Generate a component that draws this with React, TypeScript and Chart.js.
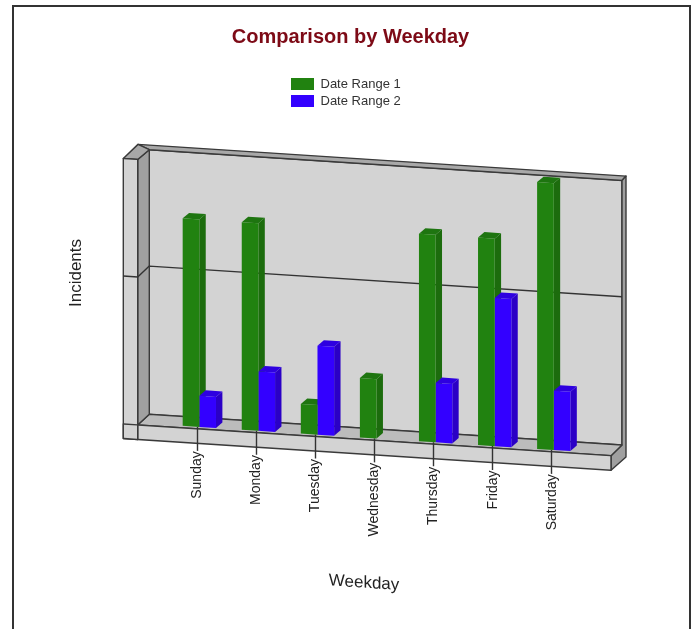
import React, { useEffect, useRef } from "react";
import { Chart, registerables } from "chart.js";

Chart.register(...registerables);

const weekdays = ["Sunday", "Monday", "Tuesday", "Wednesday", "Thursday", "Friday", "Saturday"];
const dateRange1 = [140, 140, 20, 40, 140, 140, 180];
const dateRange2 = [21, 40, 60, 0, 40, 100, 40];
const seriesNames = ["Date Range 1", "Date Range 2"];
const FONT = "'Liberation Sans', Arial, sans-serif";

const K = 0.065; // vertical shear of the whole plot
const DEPTH_X = 6.4;
const DEPTH_Y = -5.9;
const TICK_DX = -2;
const faces = [
  { front: "#218210", side: "#1c6c0d", top: "#1e7510" },
  { front: "#3300ff", side: "#2b00c6", top: "#2e00e0" },
];

const poly = (ctx: any, pts: number[][], fill: string, stroke = "#3a3a3a") => {
  ctx.beginPath();
  pts.forEach((p, i) => (i ? ctx.lineTo(p[0], p[1]) : ctx.moveTo(p[0], p[1])));
  ctx.closePath();
  ctx.fillStyle = fill;
  ctx.fill();
  ctx.strokeStyle = stroke;
  ctx.lineWidth = 1.4;
  ctx.lineJoin = "round";
  ctx.stroke();
};

const threeD = {
  id: "threeD",
  afterLayout(chart: any) {
    const ctx = chart.ctx;
    const wrap = (scale: any, name: string, dx: number, dy: number, shear: boolean) => {
      const key = "__p_" + name;
      if (scale[key]) return;
      scale[key] = true;
      const orig = scale[name].bind(scale);
      scale[name] = (...a: any[]) => {
        ctx.save();
        if (shear) ctx.transform(1, K, 0, 1, 0, 0);
        ctx.translate(dx, dy);
        orig(...a);
        ctx.restore();
      };
    };
    const xs = chart.scales.x;
    wrap(xs, "drawGrid", TICK_DX, 0, true);
    wrap(xs, "drawTitle", -12.5, -55.5, true);
    wrap(chart.scales.y, "drawTitle", 0, -7.6, false);
    // labels stay upright: each one only follows the slope of the axis
    if (!xs.__p_items) {
      xs.__p_items = true;
      const orig = xs.getLabelItems.bind(xs);
      xs.getLabelItems = (ca: any) =>
        orig(ca).map((it: any) => {
          const [x, y] = it.options.translation;
          const nx = x + TICK_DX;
          return {
            ...it,
            options: { ...it.options, rotation: -Math.PI / 2, translation: [nx, y + K * nx] },
          };
        });
    }
  },
  beforeDraw(chart: any) {
    const ctx = chart.ctx;
    const { left, right, bottom } = chart.chartArea;
    // title and legend placement
    const tb = chart.titleBlock;
    tb.left = 4;
    tb.right = 697;
    const lg = chart.legend;
    const w = lg.right - lg.left;
    const h = lg.bottom - lg.top;
    lg.left = 291 - lg.options.labels.padding;
    lg.right = lg.left + w;
    lg.top = 77.5 - lg.options.labels.padding;
    lg.bottom = lg.top + h;

    // page frame
    ctx.save();
    ctx.strokeStyle = "#333";
    ctx.lineWidth = 2;
    ctx.beginPath();
    ctx.moveTo(13, 640);
    ctx.lineTo(13, 6);
    ctx.lineTo(690, 6);
    ctx.lineTo(690, 640);
    ctx.stroke();
    ctx.restore();

    // box of the plot, relative to the plane of the bars
    const f0 = left - 32.1; // front plane left
    const f1 = right + 27.7; // front plane right
    const o0 = left - 46.5; // outer left
    const b0 = left - 20.5; // back plane left
    const b1 = right + 38.7; // back plane right
    const bo0 = left - 31.8;
    const bo1 = right + 42.7;
    const wallB = bottom - 9.4;
    const wallT = bottom - 274;
    const frontB = bottom + 2;
    const slabB = bottom + 16.5;
    const frontT = bottom - 263.5;
    const outerT = bottom - 278.6;
    ctx.save();
    ctx.transform(1, K, 0, 1, 0, 0);
    poly(ctx, [[b0, wallT], [b1, wallT], [b1, wallB], [b0, wallB]], "#d3d3d3");
    poly(ctx, [[bo0, outerT], [bo1, outerT], [b1, wallT], [b0, wallT]], "#a8a8a8");
    poly(ctx, [[b1, wallT], [bo1, outerT], [bo1, bottom + 2.3], [f1, slabB], [f1, frontB], [b1, wallB]], "#a0a0a0");
    poly(ctx, [[f0, frontB], [b0, wallB], [b1, wallB], [f1, frontB]], "#bcbcbc");
    poly(ctx, [[f0, frontT], [b0, wallT], [b0, wallB], [f0, frontB]], "#a0a0a0");
    poly(ctx, [[o0, frontT], [bo0, outerT], [b0, wallT], [f0, frontT]], "#a8a8a8");
    poly(ctx, [[o0, frontT], [f0, frontT], [f0, slabB], [o0, slabB]], "#d3d3d3");
    poly(ctx, [[f0, frontB], [f1, frontB], [f1, slabB], [f0, slabB]], "#d3d3d3");
    poly(ctx, [[o0, frontB], [f0, frontB], [f0, slabB], [o0, slabB]], "#d3d3d3");
    // gridlines from the value scale, along the wall
    const y = chart.scales.y;
    ctx.strokeStyle = "#333";
    ctx.lineWidth = 1.4;
    y.ticks.forEach((t: any) => {
      if (t.value <= 0 || t.value >= y.max) return;
      const py = y.getPixelForValue(t.value);
      ctx.beginPath();
      ctx.moveTo(o0, py + 2.2);
      ctx.lineTo(f0, py + 2.2);
      ctx.lineTo(b0, py - 9.4);
      ctx.lineTo(b1, py - 9.4);
      ctx.stroke();
    });
    ctx.restore();
  },
  beforeDatasetsDraw(chart: any) {
    // side and top faces, first series first, so the next series' front covers them
    const ctx = chart.ctx;
    ctx.save();
    ctx.transform(1, K, 0, 1, 0, 0);
    chart.data.datasets.forEach((_: any, index: number) => {
      const c = faces[index];
      chart.getDatasetMeta(index).data.forEach((bar: any) => {
        const { x, y, base, width } = bar.getProps(["x", "y", "base", "width"], true);
        if (Math.abs(base - y) < 0.5) return;
        const r = x + width / 2;
        const l = x - width / 2;
        ctx.fillStyle = c.side;
        ctx.beginPath();
        ctx.moveTo(r, y);
        ctx.lineTo(r + DEPTH_X, y + DEPTH_Y);
        ctx.lineTo(r + DEPTH_X, base + DEPTH_Y);
        ctx.lineTo(r, base);
        ctx.closePath();
        ctx.fill();
        ctx.fillStyle = c.top;
        ctx.beginPath();
        ctx.moveTo(l, y);
        ctx.lineTo(l + DEPTH_X, y + DEPTH_Y);
        ctx.lineTo(r + DEPTH_X, y + DEPTH_Y);
        ctx.lineTo(r, y);
        ctx.closePath();
        ctx.fill();
      });
    });
    ctx.restore();
  },
  beforeDatasetDraw(chart: any) {
    chart.ctx.save();
    chart.ctx.transform(1, K, 0, 1, 0, 0);
  },
  afterDatasetDraw(chart: any) {
    chart.ctx.restore();
  },
};

export default function App() {
  const ref = useRef<HTMLCanvasElement>(null);
  useEffect(() => {
    const chart = new Chart(ref.current as any, {
      type: "bar",
      data: {
        labels: weekdays,
        datasets: [
          { label: seriesNames[0], data: dateRange1, backgroundColor: faces[0].front, clip: false },
          { label: seriesNames[1], data: dateRange2, backgroundColor: faces[1].front, clip: false },
        ],
      } as any,
      options: {
        responsive: false,
        animation: false,
        layout: { padding: { left: 0, right: 110.7, top: 0, bottom: 0 } },
        datasets: { bar: { categoryPercentage: 0.564, barPercentage: 1, borderWidth: 0 } },
        plugins: {
          tooltip: { enabled: false },
          title: {
            display: true,
            text: "Comparison by Weekday",
            color: "#7d0a16",
            font: { family: FONT, size: 20, weight: "bold" },
            padding: { top: 25, bottom: 98.2 },
          },
          legend: {
            position: "chartArea",
            align: "start",
            labels: {
              boxWidth: 23,
              boxHeight: 12,
              padding: 4,
              color: "#333",
              font: { family: FONT, size: 13 },
            },
          },
        },
        scales: {
          x: {
            afterFit: (s: any) => {
              s.height = 215;
            },
            grid: {
              offset: false,
              drawOnChartArea: false,
              drawTicks: true,
              tickLength: 24,
              tickColor: "#333",
              tickWidth: 1.4,
            },
            border: { display: false },
            ticks: {
              autoSkip: false,
              minRotation: 90,
              maxRotation: 90,
              padding: 1,
              color: "#222",
              font: { family: FONT, size: 14 },
            },
            title: {
              display: true,
              text: "Weekday",
              color: "#222",
              font: { family: FONT, size: 17 },
              padding: 4,
            },
          },
          y: {
            min: 0,
            max: 180,
            afterFit: (s: any) => {
              s.width = 169.8;
            },
            grid: { display: false },
            border: { display: false },
            ticks: { display: false, stepSize: 100 },
            title: {
              display: true,
              text: "Incidents",
              color: "#222",
              font: { family: FONT, size: 17 },
              padding: { top: 66, bottom: 0 },
            },
          },
        },
      },
      plugins: [threeD],
    } as any);
    return () => chart.destroy();
  }, []);
  return (
    <div style={{ position: "absolute", left: 0, top: 0, width: 694, height: 629, background: "#fff" }}>
      <canvas ref={ref} width={694} height={629} style={{ display: "block" }} />
    </div>
  );
}
